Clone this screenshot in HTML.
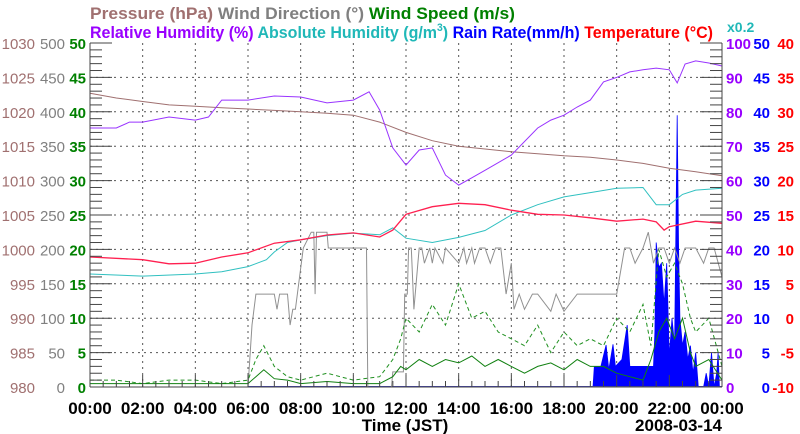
<!DOCTYPE html>
<html><head><meta charset="utf-8"><style>
html,body{margin:0;padding:0;background:#fff;}
svg{display:block;font-family:"Liberation Sans",sans-serif;}
</style></head><body>
<svg id="chart" width="800" height="434" viewBox="0 0 800 434" xmlns="http://www.w3.org/2000/svg">
<g font-size="17" font-weight="bold">
<text x="90" y="19" fill="#a07070" textLength="425" lengthAdjust="spacingAndGlyphs">Pressure (hPa) <tspan fill="#808080">Wind Direction (°)</tspan> <tspan fill="#008000">Wind Speed (m/s)</tspan></text>
<text x="90" y="38" fill="#9900ff" textLength="623" lengthAdjust="spacingAndGlyphs">Relative Humidity (%) <tspan fill="#20b8b8">Absolute Humidity (g/m<tspan font-size="11" dy="-7">3</tspan><tspan dy="7">)</tspan></tspan> <tspan fill="#0000ff">Rain Rate(mm/h)</tspan> <tspan fill="#ff0000">Temperature (°C)</tspan></text>
<text x="727" y="32" fill="#20b8b8" font-size="14">x0.2</text>
</g>
<g id="plot"></g>
</svg>
<script>
// ---- data ----
const hours = [0,1,2,3,4,5,6,7,8,9,10,11,12,13,14,15,16,17,18,19,20,21,22,23,24];
const pressure = [1022.7,1022,1021.5,1021,1020.8,1020.6,1020.4,1020.2,1020,1019.8,1019.5,1018.5,1017,1015.8,1015,1014.6,1014.2,1013.9,1013.6,1013.4,1013,1012.5,1011.8,1011.3,1010.7];
const rhTimes = [0,1,1.5,2,3,4,4.5,5,6,7,8,9,10,10.6,11,11.5,12,12.5,13,13.5,14,14.5,15,16,17,17.5,18,18.5,19,19.5,20,20.5,21,21.5,22,22.3,22.6,23,23.5,24];
const rhValues = [75.3,75.3,77,77,78.5,77.6,78.5,83.4,83.4,84.6,84.3,82.6,83.4,85.8,80.5,69.5,64.5,68.9,69.5,61.6,58.7,60.8,63,67.4,75.3,77.6,79,81.4,83.4,88.7,90,91.6,92.2,92.7,92.2,88.4,93.9,94.8,94.2,93.3];
const tempTimes = [0,2,3,4,5,6,7,8,9,10,11,11.5,12,13,14,15,16,17,18,19,20,21,21.5,21.8,22,23,24];
const tempValues = [8.9,8.5,7.9,8,8.9,9.5,10.9,11.4,12.1,12.4,11.8,12.8,15.1,16.2,16.7,16.5,15.7,15.1,15,14.6,14.1,14.4,14,12.8,13.3,14.1,13.8];
const absTimes = [0,2,4,5,6,6.7,7,7.5,8,9,10,11,11.5,12,13,14,15,16,17,18,19,20,21,21.5,22,22.5,23,24];
const absValues = [6.57,6.45,6.57,6.7,7,7.4,7.85,8.4,8.55,8.8,8.95,8.85,9.25,8.65,8.4,8.7,9.1,10,10.6,11.05,11.3,11.55,11.6,10.6,10.6,11.2,11.45,11.55];
const wdTimes = [0,6.0,6.15,6.3,7.0,7.1,7.2,7.3,7.5,7.6,7.7,7.8,8.1,8.4,8.5,8.55,8.6,9,9.05,10.5,10.55,11.45,11.5,11.9,11.95,12.05,12.1,12.2,12.3,12.5,12.6,12.7,12.9,13,13.1,13.4,13.5,14,14.2,14.3,14.5,14.6,14.8,15,15.2,15.4,15.6,15.8,16.0,16.1,16.3,16.5,16.8,17,17.5,17.7,18,18.5,19,19.5,20,20.3,20.5,20.7,21,21.2,21.4,21.6,21.8,22,22.2,22.4,22.6,22.8,23,23.3,23.5,23.7,24];
const wdValues = [0,0,90,135,135,113,135,135,135,90,113,113,202,225,225,135,225,225,202,202,0,0,22,22,135,135,202,202,113,202,202,180,202,180,202,180,202,180,202,180,202,180,202,202,180,202,202,135,180,113,135,113,135,135,110,135,110,135,135,135,135,202,202,180,202,225,180,202,202,180,202,180,202,202,202,180,202,202,160];
const wsTimes = [0,1,2,3,4,5,6,6.3,6.6,7,7.5,8,9,10,11,11.5,11.8,12,12.5,13,13.5,14,14.5,15,15.5,16,16.5,17,17.5,18,18.5,19,19.5,20,20.5,21,21.3,21.6,21.9,22.2,22.5,22.8,23,23.5,24];
const wsValues = [0.5,0.5,0.5,0.5,0.5,0.5,0.5,1.5,2.5,1.2,1,0.5,0.8,0.5,0.5,1.5,3,2.5,4,3,4,3.5,4.5,3,4,3,2,3,3.5,2.5,4,3,3,2,1.5,1,4,8,10,7,10,5,3,4,1];
const gustTimes = [0,1,2,3,4,5,6,6.3,6.6,7,7.5,8,9,10,11,11.5,11.8,12,12.5,13,13.5,14,14.5,15,15.5,16,16.5,17,17.5,18,18.5,19,19.5,20,20.5,21,21.3,21.6,21.9,22.2,22.5,22.8,23,23.5,24];
const gustValues = [1,1,0.5,1,1,0.5,1,4,6,3,1.5,1,2,1,1.5,4,7,10,8,12,9,15,10,11,8,7,6,9,5,8,6,7,6,10,8,12,6,20,16,18,15,10,8,10,3];
const rainTimes = [19.1,19.15,19.4,19.6,19.7,19.86,19.95,20.2,20.4,20.5,20.6,21.4,21.45,21.5,21.6,21.7,21.8,21.9,22.0,22.1,22.2,22.3,22.35,22.4,22.5,22.6,22.7,22.8,22.9,23.0,23.1,23.2,23.3,23.4,23.5,23.6,23.7,23.8,23.85,23.9,24];
const rainValues = [0,2.9,3,6.1,2.5,6.2,3,4,9,3,3,3,8,21,17.4,18,12,18,4.4,10,6,39.5,20,10,6,8,4,6,2,5,0,0,0,2,0,5,0,2,5,0,0];
const xTicks = ["00:00","02:00","04:00","06:00","08:00","10:00","12:00","14:00","16:00","18:00","20:00","22:00","00:00"];
const pTicks = [980,985,990,995,1000,1005,1010,1015,1020,1025,1030];
const wdTicks = [0,50,100,150,200,250,300,350,400,450,500];
const wsTicks = [0,5,10,15,20,25,30,35,40,45,50];
const rhTicks = [0,10,20,30,40,50,60,70,80,90,100];
const rainTicks = [0,5,10,15,20,25,30,35,40,45,50];
const tTicks = [-10,-5,0,5,10,15,20,25,30,35,40];

// ---- axes ----
const L=90,R=722,T=43,B=387,NS="http://www.w3.org/2000/svg";
const X=h=>L+(R-L)*h/24;
const lin=(a,b)=>v=>B-(B-T)*(v-a)/(b-a);
const yP=lin(980,1030),yWD=lin(0,500),yWS=lin(0,50),yRH=lin(0,100),yAH=lin(0,20),yRain=lin(0,50),yT=lin(-10,40);
const plot=document.getElementById('plot');
function el(tag,attrs,parent){const e=document.createElementNS(NS,tag);for(const k in attrs)e.setAttribute(k,attrs[k]);(parent||plot).appendChild(e);return e;}
function txt(x,y,s,fill,anchor,parent,size,weight){const t=el('text',{x:x,y:y,fill:fill,'text-anchor':anchor,'font-size':size||14.5,'font-weight':weight||'bold'},parent);t.textContent=s;return t;}

const grid=el('g',{});


for(let i=1;i<10;i++){const y=T+(B-T)*i/10;el('line',{x1:L,x2:R,y1:y,y2:y,stroke:'#555','stroke-dasharray':'2,4','stroke-width':1},grid);}
for(let i=1;i<12;i++){const x=X(i*2);el('line',{x1:x,x2:x,y1:T,y2:B,stroke:'#555','stroke-dasharray':'2,4','stroke-width':1},grid);}

function path(ts,vs,yf,color,name,dash,w){const d=ts.map((t,i)=>(i?'L':'M')+X(t).toFixed(1)+','+yf(vs[i]).toFixed(1)).join('');const p=el('path',{d:d,fill:'none',stroke:color,'stroke-width':w||1,'stroke-dasharray':dash||'none'});


return p;}

{const pts=rainTimes.map((t,i)=>X(t).toFixed(1)+','+yRain(rainValues[i]).toFixed(1));
const d='M'+X(rainTimes[0])+','+B+'L'+pts.join('L')+'L'+X(24)+','+B+'Z';
const a=el('path',{d:d,fill:'#0000ff',stroke:'#0000ff','stroke-width':0.8});


const bl=el('line',{x1:X(6),x2:R,y1:B-0.5,y2:B-0.5,stroke:'#4040c0','stroke-width':1});

}
path(wdTimes,wdValues,yWD,'#909090','wind-direction-line');
path(gustTimes,gustValues,yWS,'#209020','gust-speed-line','4,3');
path(wsTimes,wsValues,yWS,'#108010','wind-speed-line');
path(hours,pressure,yP,'#a07070','pressure-line');
path(absTimes,absValues,yAH,'#30c0c0','absolute-humidity-line');
path(tempTimes,tempValues,yT,'#ff2050','temperature-line',null,1.3);
path(rhTimes,rhValues,yRH,'#9933ff','relative-humidity-line');

const fr=el('g',{stroke:'#444','stroke-width':1});


el('line',{x1:L,x2:L,y1:T,y2:B},fr);el('line',{x1:R,x2:R,y1:T,y2:B},fr);el('line',{x1:L,x2:R,y1:B,y2:B},fr);
for(let i=0;i<=50;i++){const y=T+(B-T)*i/50,len=i%5?12:22;el('line',{x1:L,x2:L+len,y1:y,y2:y},fr);el('line',{x1:R-len,x2:R,y1:y,y2:y},fr);}
for(let i=0;i<=48;i++){const x=X(i/2);el('line',{x1:x,x2:x,y1:B-(i%4?6:12),y2:B},fr);}

const lab=el('g',{});


for(let i=0;i<11;i++){
 txt(35,yP(pTicks[i])+6,String(pTicks[i]),'#a07070','end',lab,15,'normal');
 txt(65,yWD(wdTicks[i])+6,String(wdTicks[i]),'#808080','end',lab,15,'normal');
 txt(86,yWS(wsTicks[i])+6,String(wsTicks[i]),'#008000','end',lab,15);
 txt(726,yRH(rhTicks[i])+6,String(rhTicks[i]),'#9900ff','start',lab,15);
 txt(770,yRain(rainTicks[i])+6,String(rainTicks[i]),'#0000ff','end',lab,15);
 txt(794,yT(tTicks[i])+6,String(tTicks[i]),'#ff0000','end',lab,15);
}
xTicks.forEach((s,i)=>txt(X(i*2),414,s,'#000','middle',lab,17,'bold'));
const xt=txt(405,431,'Time (JST)','#000','middle',lab,17,'bold');

const dt=txt(722,431,'2008-03-14','#000','end',lab,17,'bold');

</script>
</body></html>
